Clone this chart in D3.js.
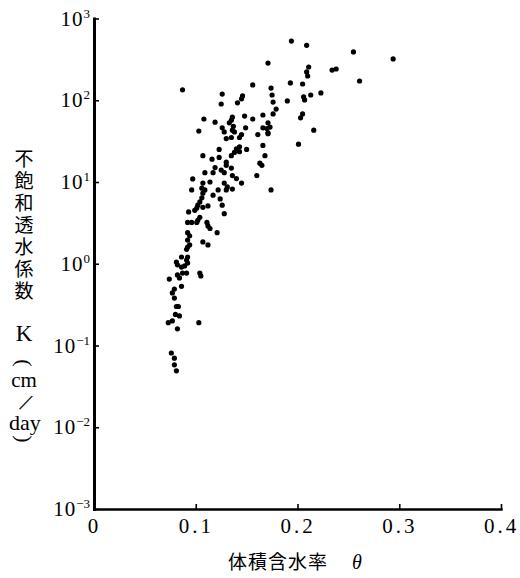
<!DOCTYPE html>
<html>
<head>
<meta charset="utf-8">
<script src="https://cdn.jsdelivr.net/npm/d3@7"></script>
<style>
	body { margin: 0; background: #fff; }
	svg text { font-family: "Liberation Serif", serif; fill: #000; }
	.jp { font-family: "Noto Sans CJK JP", sans-serif; }
</style>
</head>
<body>
<div id="chart"></div>
<script>
// volumetric water content (theta) and unsaturated hydraulic conductivity K (cm/day)
var theta = [0.194,0.209,0.255,0.294,0.171,0.211,0.209,0.210,0.234,0.238,
	0.261,0.193,0.205,0.156,0.174,0.087,0.223,0.213,0.206,0.207,
	0.190,0.175,0.176,0.179,0.126,0.125,0.146,0.145,0.141,0.205,
	0.203,0.216,0.201,0.176,0.166,0.148,0.156,0.108,0.119,0.103,
	0.136,0.135,0.133,0.137,0.136,0.149,0.171,0.173,0.170,0.171,
	0.166,0.161,0.171,0.126,0.128,0.138,0.145,0.143,0.135,0.130,
	0.166,0.150,0.143,0.140,0.138,0.135,0.143,0.123,0.123,0.107,
	0.116,0.168,0.163,0.165,0.160,0.174,0.130,0.130,0.119,0.109,
	0.117,0.125,0.128,0.135,0.136,0.140,0.097,0.107,0.106,0.109,
	0.114,0.128,0.131,0.130,0.145,0.122,0.136,0.096,0.107,0.106,
	0.117,0.124,0.126,0.128,0.104,0.102,0.101,0.099,0.107,0.112,
	0.093,0.104,0.102,0.101,0.092,0.096,0.111,0.112,0.114,0.121,
	0.092,0.094,0.092,0.107,0.112,0.092,0.091,0.094,0.086,0.092,
	0.081,0.082,0.091,0.092,0.089,0.086,0.074,0.082,0.087,0.091,
	0.084,0.104,0.105,0.086,0.079,0.077,0.079,0.081,0.083,0.080,
	0.084,0.077,0.073,0.082,0.103,0.076,0.079,0.079,0.081];
var kValues = [530,470,390,320,285,255,222,198,234,241,
	172,163,158,154,141,134,123,116,110,101,
	98,116,95,78,119,90,113,104,93,68,
	61,43,29,68,66,64,59,59,54,42,
	62,57,53,48,43,46,53,47,45,40,
	46,38,39,46,41,41,38,35,35,34,
	28,25,27,25.5,23,21,23.5,25,20,21,
	19,21,17,16,12,8.0,17.5,16,15,13,
	13,14,13,14.8,12,11,10.9,9.7,8.4,8.0,
	10,9.7,8.7,8.0,9.7,8.0,8.2,8.0,7.3,6.4,
	6.9,6.2,5.2,4.1,5.7,5.2,4.8,4.5,4.9,5.1,
	4.3,3.7,3.4,3.2,3.2,3.2,3.2,2.9,2.7,2.4,
	2.4,2.2,1.95,1.85,1.7,1.6,1.5,1.7,1.21,1.21,
	1.05,0.97,1.11,1.02,0.94,0.91,0.65,0.73,0.77,0.77,
	0.67,0.77,0.71,0.53,0.49,0.44,0.38,0.30,0.30,0.24,
	0.23,0.20,0.19,0.16,0.19,0.081,0.070,0.058,0.049];

var xTicks = [0, 0.1, 0.2, 0.3, 0.4];
var xTickLabels = ["0", "0.1", "0.2", "0.3", "0.4"];
var yTicks = [1e-3, 1e-2, 1e-1, 1e0, 1e1, 1e2, 1e3];
var yExponents = ["−3", "−2", "−1", "0", "1", "2", "3"];
var yTitle = "不飽和透水係数";
var xTitle = "体積含水率";

function makeScatterplot() {
	var width = 520;
	var height = 578;

	var svg = d3.select("#chart").append("svg")
		.attr("width", width).attr("height", height);

	var xScale = d3.scaleLinear()
		.domain([0, 0.4]).range([94, 501]);

	var yScale = d3.scaleLog()
		.domain([1e-3, 1e3]).range([509, 18.5]);

	var points = theta.map(function(t, i) { return {x: t, y: kValues[i]}; });

	// axes, ticks pointing into the plot
	var xAxis = d3.axisBottom(xScale)
		.tickValues(xTicks).tickSizeInner(-5).tickSizeOuter(0).tickPadding(9)
		.tickFormat(function(d, i) { return xTickLabels[i]; });
	var yAxis = d3.axisLeft(yScale)
		.tickValues(yTicks).tickSizeInner(-5).tickSizeOuter(0).tickPadding(4)
		.tickFormat("");

	var gx = svg.append("g").attr("transform", "translate(0,509)").call(xAxis);
	gx.select(".domain").attr("stroke-width", 2.5).attr("stroke-linecap", "square");
	gx.selectAll(".tick line").attr("stroke-width", 1.6);
	gx.selectAll(".tick text")
		.attr("font-family", "Liberation Serif, serif")
		.attr("font-size", 21).attr("letter-spacing", 3);

	var gy = svg.append("g").attr("transform", "translate(94,0)").call(yAxis);
	gy.select(".domain").attr("stroke-width", 3).attr("stroke-linecap", "square");
	gy.selectAll(".tick line").attr("stroke-width", 1.6);
	gy.selectAll(".tick text")
		.attr("font-family", "Liberation Serif, serif")
		.attr("font-size", 21)
		.each(function(d, i) {
			var t = d3.select(this);
			t.append("tspan").attr("letter-spacing", 1).text("10");
			t.append("tspan").attr("font-size", 13).attr("dy", -8).text(yExponents[i]);
		});

	svg.selectAll("circle.pt").data(points).enter().append("circle")
		.attr("class", "pt")
		.attr("cx", function(d) { return xScale(d.x); })
		.attr("cy", function(d) { return yScale(d.y); })
		.attr("r", 2.6)
		.attr("fill", "#000");

	// x title
	var xt = svg.append("text").attr("x", 228).attr("y", 569);
	xt.append("tspan").attr("class", "jp").attr("font-size", 19).attr("letter-spacing", 1).text(xTitle);
	xt.append("tspan").attr("dx", 24).attr("font-size", 20).attr("font-style", "italic").text("θ");

	// vertical y title
	svg.append("text")
		.attr("class", "jp")
		.attr("x", 24).attr("y", 149)
		.style("writing-mode", "vertical-rl")
		.attr("font-size", 19)
		.attr("letter-spacing", 3)
		.text(yTitle);

	svg.append("text").attr("x", 24).attr("y", 341)
		.attr("text-anchor", "middle").attr("font-size", 23).text("K");
	svg.append("text").attr("transform", "translate(24,363) rotate(90)")
		.attr("text-anchor", "middle").attr("dy", "0.3em").attr("font-size", 22).text("(");
	svg.append("text").attr("x", 24).attr("y", 387)
		.attr("text-anchor", "middle").attr("font-size", 21).text("cm");
	svg.append("text").attr("transform", "translate(26,402) rotate(25)")
		.attr("text-anchor", "middle").attr("dy", "0.35em").attr("font-size", 26).text("/");
	svg.append("text").attr("x", 25).attr("y", 430)
		.attr("text-anchor", "middle").attr("font-size", 22).text("day");
	svg.append("text").attr("transform", "translate(24,439) rotate(90)")
		.attr("text-anchor", "middle").attr("dy", "0.3em").attr("font-size", 22).text(")");
}

makeScatterplot();
</script>
</body>
</html>
